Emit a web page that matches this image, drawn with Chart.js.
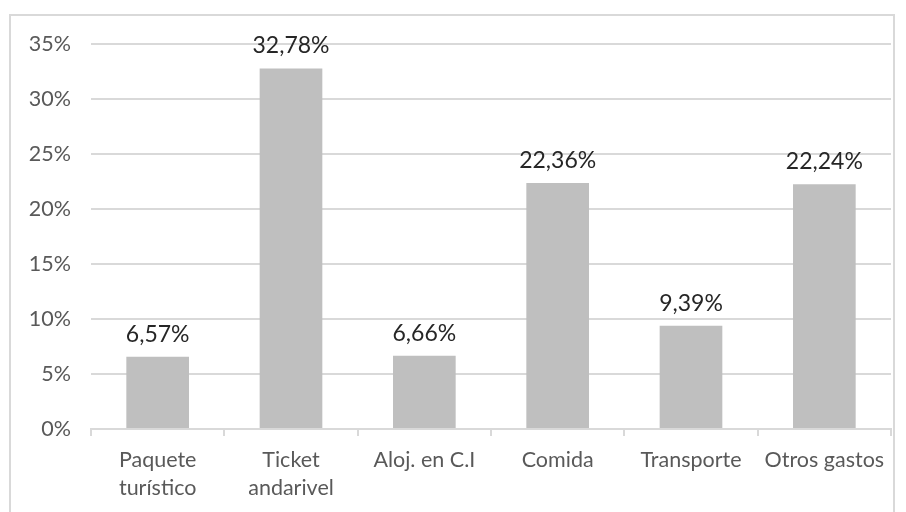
<!DOCTYPE html>
<html>
<head>
<meta charset="utf-8">
<script src="https://cdn.jsdelivr.net/npm/chart.js@4.4.0/dist/chart.umd.min.js"></script>
<style>
  html, body { margin: 0; padding: 0; background: #fff; }
  #wrap { position: relative; width: 906px; height: 512px; overflow: hidden; }
  #frame { position: absolute; left: 9px; top: 14px; width: 882px; height: 520px; border: 2px solid #d9d9d9; }
  #gastos-chart { position: absolute; left: 0; top: 0; }
</style>
</head>
<body>
<div id="wrap">
  <div id="frame"></div>
  <canvas id="gastos-chart" width="906" height="512"></canvas>
</div>
<script>
// Distribución del gasto
const categories = [['Paquete', 'turístico'], ['Ticket', 'andarivel'], 'Aloj. en C.I', 'Comida', 'Transporte', 'Otros gastos'];
const percentages = [6.57, 32.78, 6.66, 22.36, 9.39, 22.24];
const yTicks = [0, 5, 10, 15, 20, 25, 30, 35];

const fontFamily = 'Lato, "Open Sans", sans-serif';

function fmtPct(v) {
  return v.toFixed(2).replace('.', ',') + '%';
}

// etiquetas encima de cada barra
const valueLabels = {
  id: 'valueLabels',
  afterDatasetsDraw(chart) {
    const ctx = chart.ctx;
    const meta = chart.getDatasetMeta(0);
    ctx.save();
    ctx.font = '23px ' + fontFamily;
    ctx.fillStyle = '#262626';
    ctx.textAlign = 'center';
    ctx.textBaseline = 'bottom';
    meta.data.forEach((bar, i) => {
      ctx.fillText(fmtPct(percentages[i]), bar.x, bar.y - 11);
    });
    ctx.restore();
  }
};

let gastosCanvas = document.getElementById('gastos-chart');

let gastosData = {
  labels: categories,
  datasets: [{
    data: percentages,
    backgroundColor: '#bfbfbf',
    borderWidth: 0,
    barPercentage: 0.47,
    categoryPercentage: 1
  }]
};

let gastosOptions = {
  responsive: false,
  animation: false,
  layout: {
    padding: { top: 44, right: 15, left: 0, bottom: 0 }
  },
  scales: {
    x: {
      grid: {
        display: true,
        drawOnChartArea: false,
        offset: true,
        tickLength: 7,
        color: '#d9d9d9',
        lineWidth: 2
      },
      border: { color: '#d9d9d9', width: 2 },
      ticks: {
        color: '#595959',
        font: { family: fontFamily, size: 21.5, lineHeight: 1.3 },
        padding: 10,
        maxRotation: 0,
        autoSkip: false
      },
      afterFit(scale) { scale.height = 83; }
    },
    y: {
      min: 0,
      max: 35,
      afterBuildTicks(scale) {
        scale.ticks = yTicks.map(v => ({ value: v }));
      },
      grid: { color: '#d9d9d9', lineWidth: 2, drawTicks: false },
      border: { display: false },
      ticks: {
        color: '#595959',
        font: { family: fontFamily, size: 21.5 },
        padding: 20,
        callback: v => v + '%'
      },
      afterFit(scale) { scale.width = 91; }
    }
  },
  plugins: {
    legend: { display: false },
    tooltip: { enabled: false }
  }
};

let gastosChart = new Chart(gastosCanvas, {
  type: 'bar',
  data: gastosData,
  options: gastosOptions,
  plugins: [valueLabels]
});
</script>
</body>
</html>
